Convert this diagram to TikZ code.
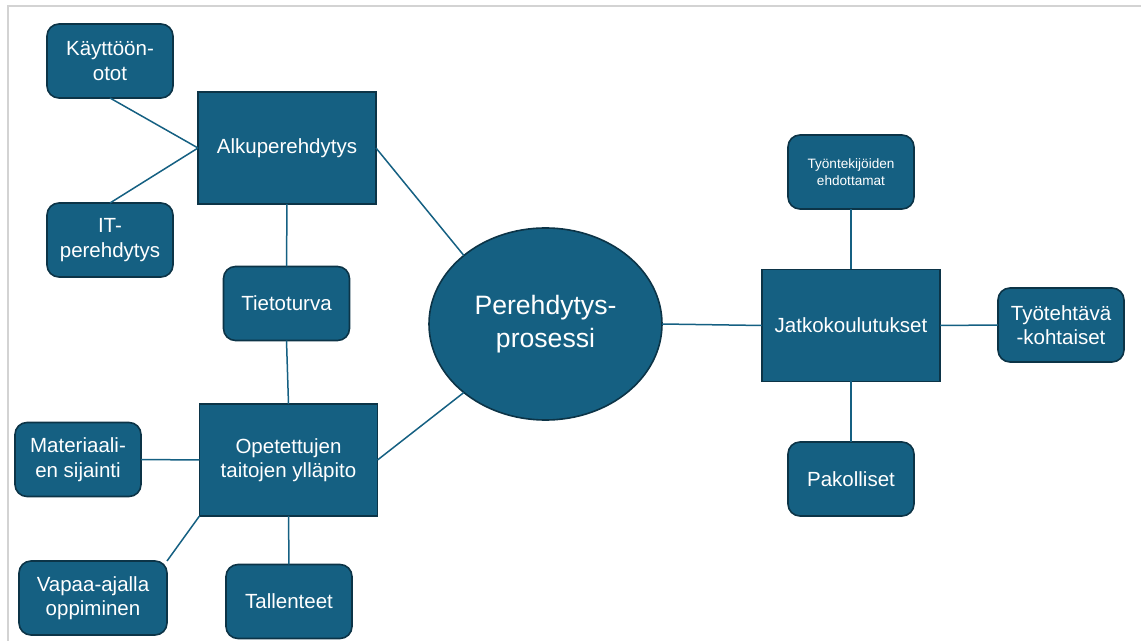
\documentclass[tikz,border=0pt]{standalone}
\usepackage{fontspec}
\setmainfont{Liberation Sans}
\usetikzlibrary{shapes.geometric}

\definecolor{perblue}{HTML}{156082}
\definecolor{perdark}{HTML}{0C3447}
\definecolor{perframe}{HTML}{D3D3D3}

\begin{document}
\begin{tikzpicture}[
	x = 0.5pt,
	y = -0.5pt,
	topic/.style = {
		draw = perdark,
		fill = perblue,
		line width = 0.8pt,
		text = white,
		inner sep = 0pt,
		outer sep = 0pt,
		align = center,
		font = \fontsize{10.25}{12.25}\selectfont,
	},
	mainbox/.style = {
		topic,
		minimum width = 89pt,
		minimum height = 56pt,
	},
	subbox/.style = {
		topic,
		rounded corners = 6pt,
		minimum width = 63pt,
		minimum height = 37pt,
	},
	link/.style = {
		perblue,
		line width = 0.75pt,
	},
]
	
	\useasboundingbox (0,0) rectangle (1141,641);
	\draw[perframe, line width = 0.75pt]
		(8,641) -- (8,6) -- (1141,6);
	
	% centre
	\node[
		topic,
		ellipse,
		minimum width = 116.5pt,
		minimum height = 96pt,
		font = \fontsize{13.3}{16.5}\selectfont,
		name = prosessi,
	] at (545.5,324) {Perehdytys-\\prosessi};
	
	% left branch
	\node[mainbox, name = alku] at (287,148) {Alkuperehdytys};
	\node[subbox, name = kaytto] at (110,61) {Käyttöön-\\otot};
	\node[subbox, name = itper] at (110,240) {IT-\\perehdytys};
	\node[subbox, name = tieto] at (286.5,303.5) {Tietoturva};
	
	\node[mainbox, name = opet] at (288.5,460) {Opetettujen\\taitojen ylläpito};
	\node[subbox, name = materiaali] at (78,459.5) {Materiaali-\\en sijainti};
	\node[
		subbox,
		minimum width = 74pt,
		name = vapaa,
	] at (93,598) {Vapaa-ajalla\\oppiminen};
	\node[subbox, name = tallenteet] at (289,601.5) {Tallenteet};
	
	% right branch
	\node[mainbox, name = jatko] at (851,325.5) {Jatkokoulutukset};
	\node[
		subbox,
		font = \fontsize{6.8}{8.5}\selectfont,
		name = ehdottamat,
	] at (851,172) {Työntekijöiden\\ehdottamat};
	\node[subbox, name = tehtava] at (1061,325) {Työtehtävä\\-kohtaiset};
	\node[subbox, name = pakolliset] at (851,479) {Pakolliset};
	
	\draw[link] (kaytto.south) to (alku.west);
	\draw[link] (itper.north) to (alku.west);
	\draw[link] (alku.south) to (tieto.north);
	\draw[link] (tieto.south) to (opet.north);
	\draw[link] (alku.east) to (prosessi.140);
	\draw[link] (opet.east) to (prosessi.220);
	\draw[link] (materiaali.east) to (opet.west);
	\draw[link] (vapaa.north east) to (opet.south west);
	\draw[link] (tallenteet.north) to (opet.south);
	
	\draw[link] (prosessi.east) to (jatko.west);
	\draw[link] (ehdottamat.south) to (jatko.north);
	\draw[link] (jatko.east) to (tehtava.west);
	\draw[link] (jatko.south) to (pakolliset.north);
	
\end{tikzpicture}
\end{document}
